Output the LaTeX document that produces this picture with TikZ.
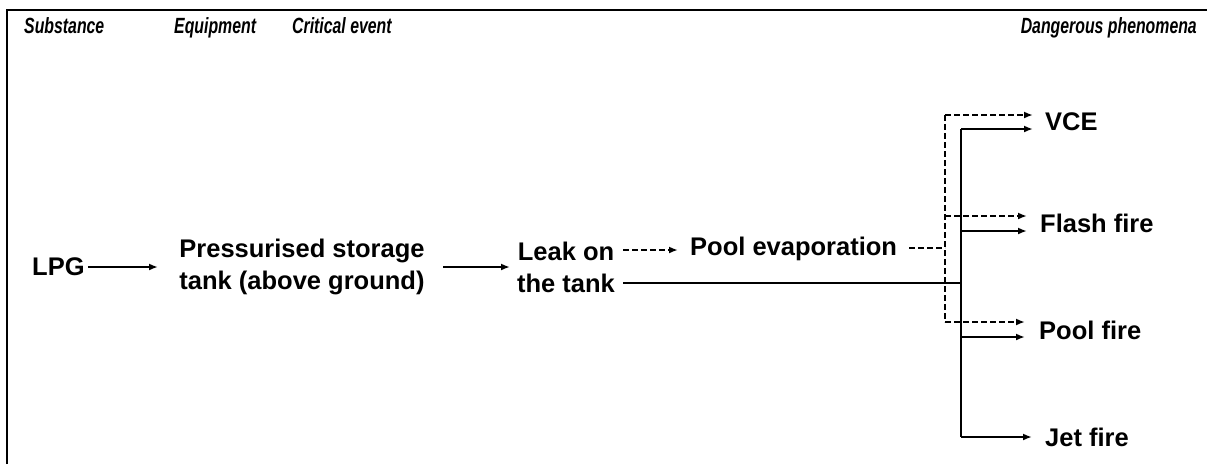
\documentclass[tikz,border=0pt]{standalone}
\usepackage{fontspec}
\setmainfont{Liberation Sans}
\newfontfamily\hdrfont[FakeStretch=0.72]{Liberation Sans}
\usetikzlibrary{arrows.meta}
\begin{document}
\begin{tikzpicture}[x=1pt,y=-1pt,
  lbl/.style={font=\fontsize{25.5}{32}\selectfont\bfseries, inner sep=0pt, align=center},
  hdr/.style={font=\hdrfont\fontsize{22}{26}\selectfont\bfseries\itshape, inner sep=0pt, anchor=base west},
  ln/.style={line width=2pt},
  dl/.style={line width=2pt, dash pattern=on 6pt off 3pt},
  arr/.style={-{Latex[length=9pt,width=7pt]}}]
\useasboundingbox (0,0) rectangle (1207,464);
\draw[line width=2.5pt] (7,464) -- (7,10) -- (1207,10);
% headers
\node[hdr] (h1) at (24,33) {Substance};
\node[hdr] (h2) at (174,33) {Equipment};
\node[hdr] (h3) at (292,33) {Critical event};
\node[hdr, anchor=base east] (h4) at (1197,33) {Dangerous phenomena};
% nodes
\node[lbl, anchor=west] (lpg) at (32,267) {LPG};
\node[lbl] (tank) at (302,267) {Pressurised storage\\tank (above ground)};
\node[lbl] (leak) at (566,267) {Leak on\\the tank};
\node[lbl, anchor=west] (pool) at (690,249) {Pool evaporation};
\node[lbl, anchor=west] (vce) at (1045,122) {VCE};
\node[lbl, anchor=west] (flash) at (1040,223) {Flash fire};
\node[lbl, anchor=west] (pfire) at (1039,330) {Pool fire};
\node[lbl, anchor=west] (jet) at (1045,437) {Jet fire};
% coordinates
\coordinate (a1) at (158,267);
\coordinate (a2s) at (443,267);
\coordinate (a2e) at (510,267);
\coordinate (d1s) at (623,250);
\coordinate (d1e) at (678,250);
\coordinate (d2s) at (909,248);
\coordinate (dj) at (945,248);
\coordinate (dt) at (945,115);
\coordinate (dm) at (945,216);
\coordinate (db) at (945,322);
\coordinate (s0) at (623,283);
\coordinate (sj) at (961,283);
\coordinate (st) at (961,129);
\coordinate (sm) at (961,231);
\coordinate (sp) at (961,337);
\coordinate (sb) at (961,437);
% solid arrows
\draw[ln,arr] (lpg.east) ++(3,0) -- (a1);
\draw[ln,arr] (a2s) -- (a2e);
% dashed path
\draw[dl,arr] (d1s) -- (d1e);
\draw[dl] (d2s) -- (dj);
\draw[dl] (dt) -- (db);
\draw[dl,arr] (dt) -- (1033,115);
\draw[dl,arr] (dm) -- (1027,216);
\draw[dl,arr] (db) -- (1025,322);
% solid path
\draw[ln] (s0) -- (sj);
\draw[ln] (st) -- (sb);
\draw[ln,arr] (st) -- (1033,129);
\draw[ln,arr] (sm) -- (1027,231);
\draw[ln,arr] (sp) -- (1025,337);
\draw[ln,arr] (sb) -- (1032,437);
\end{tikzpicture}
\end{document}
